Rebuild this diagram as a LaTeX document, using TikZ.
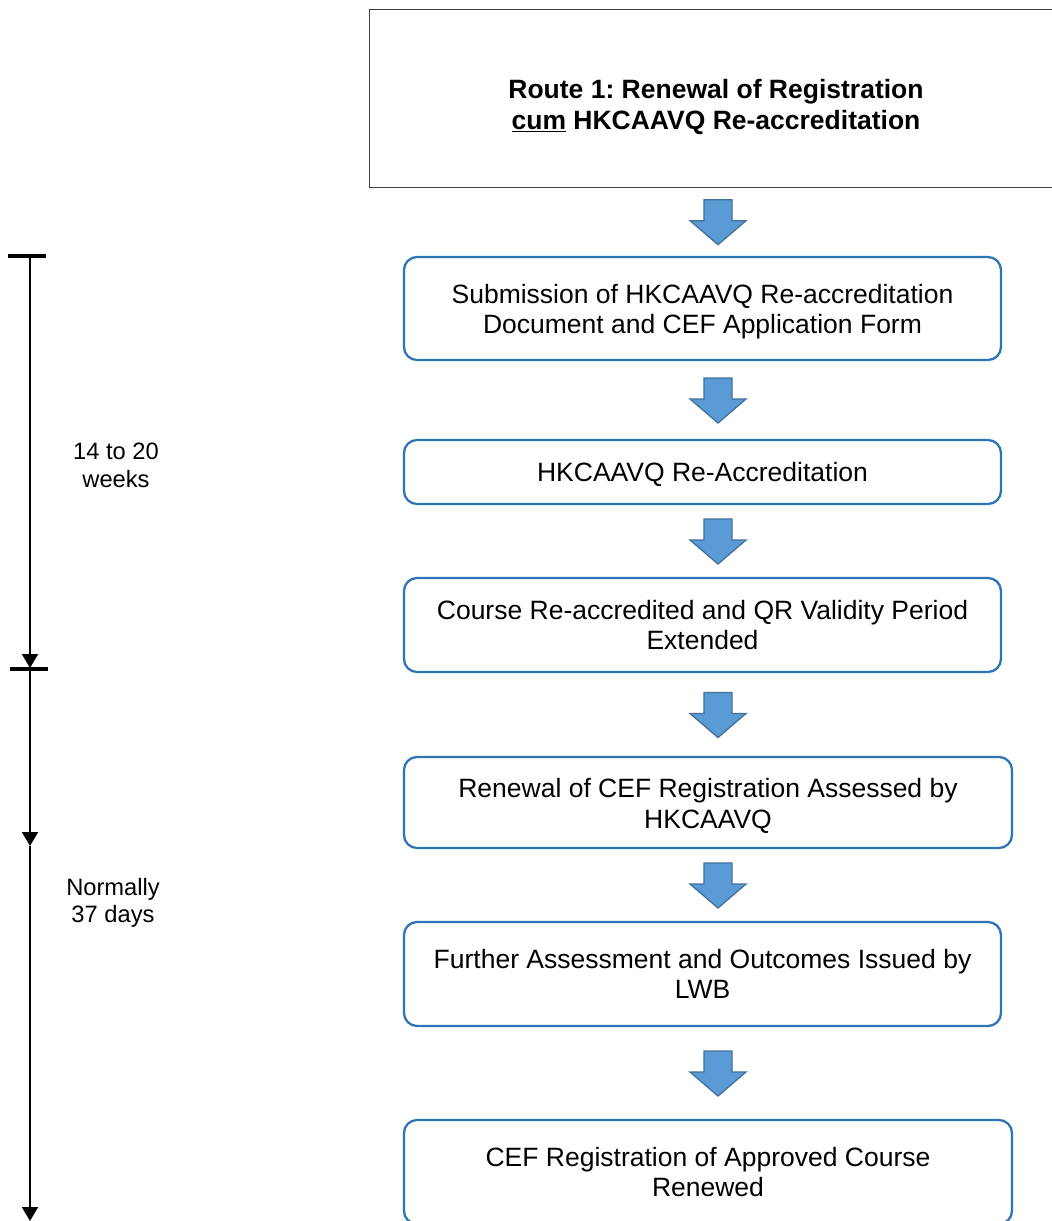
\documentclass[tikz,border=0pt]{standalone}
\usepackage{fontspec}
\setmainfont{Liberation Sans}
\usetikzlibrary{arrows.meta,calc}
\frenchspacing
\definecolor{stageblue}{HTML}{2E75B6}
\definecolor{flowfill}{HTML}{5B9BD5}
\definecolor{flowline}{HTML}{41719C}
% taller first line pushes the text block down inside its box
\newcommand\topgap[1]{\rule{0pt}{#1}}
\tikzset{
  headbox/.style={draw=black!75,line width=1pt,align=center,inner sep=0pt,
    font=\fontsize{26.5}{30.5}\selectfont\bfseries},
  stage/.style={draw=stageblue,line width=2.3pt,rounded corners=13pt,
    align=center,inner sep=0pt,font=\fontsize{26.5}{30.5}\selectfont},
  flow/.style={fill=flowfill,draw=flowline,line width=1.3pt,line join=miter},
  timeline/.style={draw=black,line width=2pt,-{Triangle[width=16pt,length=14pt]}},
  tick/.style={draw=black,line width=4pt},
  span/.style={align=center,inner sep=0pt,font=\fontsize{23.7}{27.5}\selectfont}
}
\begin{document}
\begin{tikzpicture}[x=1pt,y=-1pt]
  \useasboundingbox[fill=white] (0,0) rectangle (1052,1221);
  % route and stages
  \node[headbox,minimum width=694pt,minimum height=178pt] (route) at (716,98)
    {\topgap{37pt}Route 1: Renewal of Registration\\\underline{cum} HKCAAVQ Re-accreditation};
  \node[stage,minimum width=597pt,minimum height=103pt] (submit) at (702.5,308.5)
    {\topgap{25.5pt}Submission of HKCAAVQ Re-accreditation\\Document and CEF Application Form};
  \node[stage,minimum width=597pt,minimum height=64pt] (reacc) at (702.5,472)
    {\topgap{23pt}HKCAAVQ Re-Accreditation};
  \node[stage,minimum width=597pt,minimum height=94pt] (extended) at (702.5,625)
    {Course Re-accredited and QR Validity Period\\Extended};
  \node[stage,minimum width=608pt,minimum height=91pt] (renewal) at (708,802.5)
    {\topgap{25.5pt}Renewal of CEF Registration Assessed by\\HKCAAVQ};
  \node[stage,minimum width=597pt,minimum height=104pt] (further) at (702.5,974)
    {Further Assessment and Outcomes Issued by\\LWB};
  \node[stage,minimum width=608pt,minimum height=104pt] (renewed) at (708,1172)
    {CEF Registration of Approved Course\\Renewed};
  % block arrows between the boxes
  \coordinate (axis) at (718,0);
  \foreach \a/\b in {route/submit,submit/reacc,reacc/extended,
                     extended/renewal,renewal/further,further/renewed}{
    \coordinate (m) at ($(\a.south)!0.5!(\b.north)$);
    \draw[flow] (m -| axis) ++(-14,-22) -- ++(28,0) -- ++(0,21) -- ++(14,0)
      -- ++(-28,24) -- ++(-28,-24) -- ++(14,0) -- cycle;
  }
  % time line
  \coordinate (t0) at (30,256);
  \coordinate (t1) at (30,668);
  \coordinate (t2) at (30,846);
  \coordinate (t3) at (30,1221);
  \draw[tick] ([xshift=-22pt]t0) -- ([xshift=16pt]t0);
  \draw[timeline] (t0) -- (t1);
  \draw[tick] ([xshift=-20pt,yshift=-1pt]t1) -- ([xshift=18pt,yshift=-1pt]t1);
  \draw[timeline] (t1) -- (t2);
  \draw[timeline] (t2) -- (t3);
  \node[span] (weeks) at (116,465.5) {14 to 20\\weeks};
  \node[span] (days) at (113,903) {Normally\\37 days};
\end{tikzpicture}
\end{document}
